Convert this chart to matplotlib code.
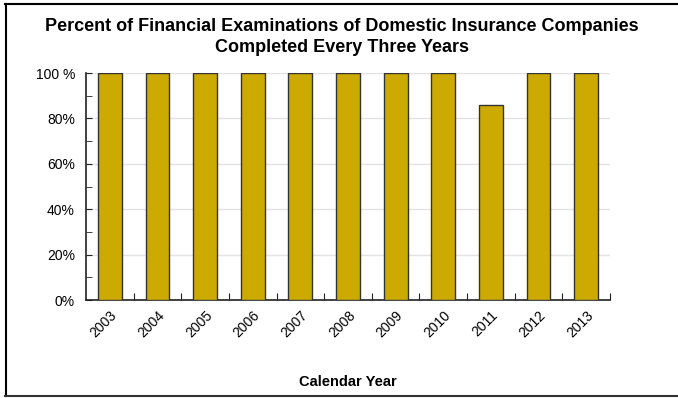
import matplotlib
matplotlib.use("Agg")
import matplotlib.pyplot as plt
from matplotlib.lines import Line2D
from matplotlib.ticker import MultipleLocator, FuncFormatter

years = ["2003", "2004", "2005", "2006", "2007", "2008", "2009", "2010", "2011", "2012", "2013"]
percent = [100, 100, 100, 100, 100, 100, 100, 100, 86, 100, 100]
title = "Percent of Financial Examinations of Domestic Insurance Companies\nCompleted Every Three Years"
xlabel = "Calendar Year"

plt.rcParams['font.family'] = ['Liberation Sans', 'DejaVu Sans']

W, H = 678, 398
fig = plt.figure(figsize=(W / 100, H / 100), dpi=100)
ax = fig.add_axes([86 / W, 1 - 300 / H, (610 - 86) / W, (300 - 73) / H])

x = list(range(len(years)))
ax.bar(x, percent, width=0.5, color="#CCAA00", edgecolor="#333333", linewidth=1, zorder=3)
ax.set_xlim(-0.5, len(years) - 0.5)
ax.set_ylim(0, 100)

ax.yaxis.set_major_locator(MultipleLocator(20))
ax.yaxis.set_minor_locator(MultipleLocator(10))
ax.yaxis.set_major_formatter(FuncFormatter(lambda v, p: "100 %" if v == 100 else f"{int(v)}%"))
ax.grid(axis="y", color="#e3e3e3", linewidth=1, zorder=0)
ax.tick_params(axis="y", which="both", direction="in", length=4, labelsize=10, pad=8, color="#222222")

ax.set_xticks([i + 0.5 for i in x[:-1]] + [len(years) - 0.5])
ax.set_xticklabels([])
ax.tick_params(axis="x", which="major", direction="in", length=5, color="#222222")
ax.set_xticks(x, minor=True)
ax.set_xticklabels(years, minor=True, rotation=45, ha="right", va="top", rotation_mode="anchor", fontsize=10)
ax.tick_params(axis="x", which="minor", length=0, pad=6)

for s in ["top", "right"]:
    ax.spines[s].set_visible(False)
for s in ["left", "bottom"]:
    ax.spines[s].set_color("#222222")
    ax.spines[s].set_linewidth(1.2)

fig.text(342 / W, 1 - 37 / H, title, ha="center", va="center", fontsize=13, fontweight="bold", linespacing=1.3)
fig.text(348 / W, 1 - 382 / H, xlabel, ha="center", va="center", fontsize=10.5, fontweight="bold")

# figure frame
fig.add_artist(Line2D([5.5 / W, 5.5 / W], [1 - 4 / H, 1 - 395.5 / H], transform=fig.transFigure, color="black", linewidth=1.5))
fig.add_artist(Line2D([5 / W, 1], [1 - 4 / H, 1 - 4 / H], transform=fig.transFigure, color="black", linewidth=1.5))
fig.add_artist(Line2D([5 / W, 1], [1 - 395.5 / H, 1 - 395.5 / H], transform=fig.transFigure, color="#333333", linewidth=1.5))

fig.savefig("out.png", dpi=100)
